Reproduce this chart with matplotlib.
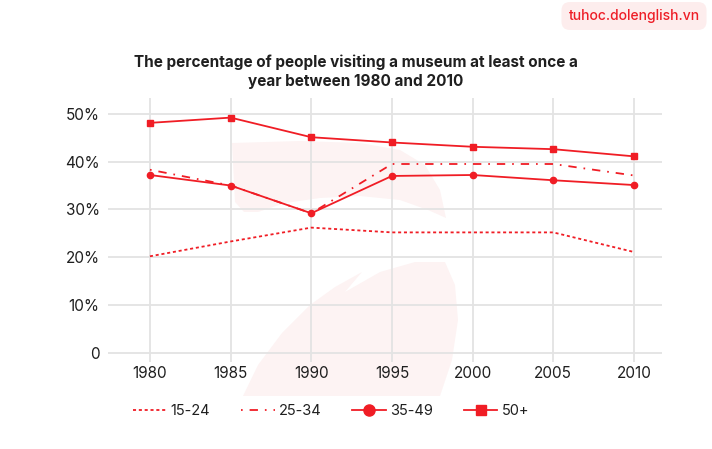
import matplotlib
matplotlib.use("Agg")
import matplotlib.pyplot as plt
from matplotlib.lines import Line2D
from matplotlib.patches import Polygon

plt.rcParams['font.family'] = ['Inter', 'DejaVu Sans']
plt.rcParams['lines.scale_dashes'] = False

years = [1980, 1985, 1990, 1995, 2000, 2005, 2010]
s15_24 = [20.2, 23.3, 26.2, 25.2, 25.2, 25.2, 21.1]
s25_34 = [38.3, 35.0, 29.2, 39.5, 39.5, 39.5, 37.1]
s35_49 = [37.2, 35.0, 29.2, 37.0, 37.2, 36.1, 35.1]
s50p = [48.1, 49.2, 45.1, 44.0, 43.1, 42.6, 41.1]
labels = ['15-24', '25-34', '35-49', '50+']
yticks = [0, 10, 20, 30, 40, 50]
ytick_labels = ['0', '10%', '20%', '30%', '40%', '50%']
title = "The percentage of people visiting a museum at least once a\nyear between 1980 and 2010"

RED = '#F01D25'
TXT = '#1f1f1f'
W, H = 712, 449

fig = plt.figure(figsize=(W / 100, H / 100), dpi=100)
fig.patch.set_facecolor('white')

def px(pts):
    return [(x / W, 1 - y / H) for x, y in pts]

# faint watermark logo
wm = '#FDF3F3'
top_shape = [(232, 143), (300, 141), (360, 143), (400, 150), (425, 165), (440, 190),
             (446, 218), (428, 210), (400, 200), (360, 196), (320, 198), (285, 203),
             (258, 212), (244, 212), (235, 202)]
low_shape = [(243, 396), (258, 365), (282, 333), (310, 305), (335, 287), (362, 272),
             (345, 292), (380, 272), (415, 262), (445, 262), (455, 285), (458, 320),
             (452, 360), (440, 396)]
for shp in (top_shape, low_shape):
    fig.patches.append(Polygon(px(shp), closed=True, transform=fig.transFigure,
                               facecolor=wm, edgecolor='none', zorder=-5))

ax = fig.add_axes([108 / W, 1 - 362 / H, (662 - 108) / W, (362 - 98) / H])
ax.set_facecolor('none')

l1, = ax.plot(years, s15_24, color=RED, lw=1.3)
l1.set_dashes((2.2, 2.0))
l2, = ax.plot(years, s25_34, color=RED, lw=1.3)
l2.set_dashes((1.2, 5, 6, 5))
ax.plot(years, s35_49, color=RED, lw=1.3, marker='o', ms=4.5)
ax.plot(years, s50p, color=RED, lw=1.3, marker='s', ms=5)

ax.set_xlim(1977.4, 2011.74)
ax.set_ylim(-1.9, 53.3)
ax.set_xticks(years)
ax.set_xticklabels([str(y) for y in years])
ax.set_yticks(yticks)
ax.set_yticklabels(ytick_labels)
ax.tick_params(length=0, labelsize=11, colors=TXT)
ax.tick_params(axis='y', pad=6)
ax.tick_params(axis='x', pad=3)
ax.grid(True, color='#e3e3e3', lw=1.3)
ax.set_axisbelow(True)
for sp in ax.spines.values():
    sp.set_visible(False)

fig.text(0.5, 1 - 72 / H, title, ha='center', va='center', fontsize=11,
         fontweight='bold', color=TXT, linespacing=1.3)

# watermark url
fig.text(634 / W, 1 - 16 / H, 'tuhoc.dolenglish.vn', ha='center', va='center',
         fontsize=10, color='#EE1D26', fontweight='medium',
         bbox=dict(boxstyle='round,pad=0.5,rounding_size=0.6', fc='#FDEDED', ec='none'))

h1 = Line2D([], [], color=RED, lw=1.3)
h1.set_dashes((2.2, 2.0))
h2 = Line2D([], [], color=RED, lw=1.3)
h2.set_dashes((1.2, 5, 6, 5))
h3 = Line2D([], [], color=RED, lw=1.3, marker='o', ms=8)
h4 = Line2D([], [], color=RED, lw=1.3, marker='s', ms=6.5)
fig.legend([h1, h2, h3, h4], labels, loc='center', bbox_to_anchor=(331 / W, 1 - 411 / H),
           ncol=4, frameon=False, fontsize=10.5, handlelength=2.3, handletextpad=0.3,
           columnspacing=2.1, labelcolor=TXT)

fig.savefig('out.png', dpi=100)
